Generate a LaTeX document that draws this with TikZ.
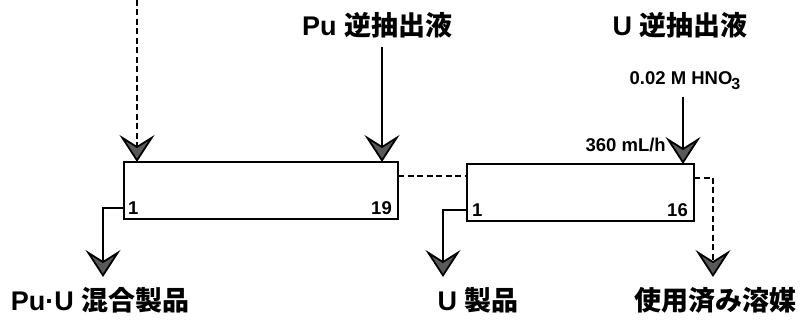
\documentclass[tikz,border=0pt]{standalone}
\usepackage{fontspec}
\setmainfont{Liberation Sans}
\newfontfamily\jp{Noto Sans CJK JP}
\usetikzlibrary{arrows.meta}
\tikzset{
  box/.style={draw, line width=2.8pt, inner sep=0pt, outer sep=0pt},
  flow/.style={line width=2.6pt},
  dashflow/.style={line width=2.6pt, dash pattern=on 6pt off 3.5pt},
  arr/.style={-{Stealth[length=27pt,width=35pt,inset=11pt,fill=black!65,line width=1.8pt]}},
  big/.style={font=\fontsize{27}{31}\selectfont\bfseries, inner sep=0pt},
  small/.style={font=\fontsize{18.5}{22}\selectfont\bfseries, inner sep=0pt},
}
\begin{document}
\begin{tikzpicture}[x=1pt,y=-1pt]
\useasboundingbox (0,0) rectangle (803,320);
% boxes
\node[box, minimum width=274pt, minimum height=57pt] (b1) at (261,190.5) {};
\node[box, minimum width=227pt, minimum height=57pt] (b2) at (580.5,192.5) {};
% stage numbers
\node[small, anchor=west] (n1) at (128,208) {1};
\node[small, anchor=east] (n19) at (392,208) {19};
\node[small, anchor=west] (n2) at (472,210) {1};
\node[small, anchor=east] (n16) at (688,210) {16};
% top labels
\node[big] (lpu) at (377,25) {Pu {\jp 逆抽出液}};
\node[big] (lu) at (680,25) {U {\jp 逆抽出液}};
\node[small] (lhno) at (685,81) {0.02 M HNO\kern-1pt\raisebox{-5pt}{\fontsize{16}{16}\selectfont 3}};
\node[small, anchor=east] (lrate) at (666,145) {360 mL/h};
% bottom labels
\node[big] (lmix) at (100,300) {Pu·U {\jp 混合製品}};
\node[big] (lup) at (478,300) {U {\jp 製品}};
\node[big] (lsol) at (715,300) {{\jp 使用済み溶媒}};
% coordinates
\coordinate (f0) at (137,0);
\coordinate (pus) at (382,47);
\coordinate (us) at (683,97);
\coordinate (o1) at (124,208);
\coordinate (o1c) at (103,208);
\coordinate (o1e) at (103,277);
\coordinate (m1) at (398,176);
\coordinate (m2) at (467,176);
\coordinate (o2) at (467,210);
\coordinate (o2c) at (443,210);
\coordinate (o2e) at (443,277);
\coordinate (s1) at (694,178);
\coordinate (s1c) at (713,178);
\coordinate (s1e) at (713,277);
% connectors
\draw[dashflow, arr] (f0) -- (f0 |- b1.north);
\draw[flow, arr] (pus) -- (pus |- b1.north);
\draw[flow, arr] (us) -- (us |- b2.north);
\draw[flow, arr] (o1) -- (o1c) -- (o1e);
\draw[dashflow] (m1) -- (m2);
\draw[flow, arr] (o2) -- (o2c) -- (o2e);
\draw[dashflow, arr] (s1) -- (s1c) -- (s1e);
\end{tikzpicture}
\end{document}
